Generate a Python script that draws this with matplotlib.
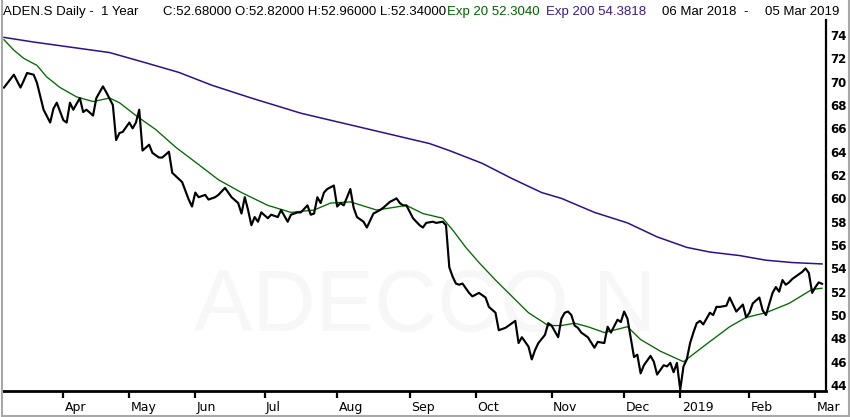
import matplotlib
matplotlib.use("Agg")
import matplotlib.pyplot as plt
from matplotlib.lines import Line2D
import matplotlib.transforms as mtrans

# ---------------- data ----------------
# x = trading-session index (0 = 06 Mar 2018 ... 248 = 05 Mar 2019)
close_day = [0, 3, 5, 6, 7, 9, 10, 12, 14, 15, 16, 18, 19, 20, 21, 23, 24, 25, 27, 28,
             30, 31, 33, 34, 35, 36, 38, 39, 40, 41, 42, 44, 45, 47, 48, 50, 51, 54, 56, 57,
             58, 59, 61, 62, 64, 65, 67, 68, 69, 71, 72, 73, 74, 75, 76, 77, 78, 80, 81, 83,
             84, 86, 87, 89, 90, 92, 93, 94, 95, 96, 97, 98, 100, 101, 102, 103, 105, 106, 107, 109,
             110, 111, 112, 114, 115, 117, 119, 120, 121, 122, 124, 126, 127, 128, 130, 131, 133, 134, 135, 136,
             137, 138, 139, 141, 142, 144, 146, 147, 149, 150, 152, 154, 155, 156, 157, 159, 160, 161, 162, 164,
             165, 166, 168, 169, 170, 171, 172, 173, 174, 175, 177, 179, 180, 182, 183, 184, 186, 187, 188, 189,
             191, 192, 193, 194, 196, 197, 198, 200, 201, 202, 203, 204, 205, 206, 207, 208, 209, 210, 211, 212,
             214, 215, 216, 217, 219, 220, 221, 222, 224, 225, 226, 227, 229, 230, 231, 233, 234, 235, 236, 237,
             238, 239, 240, 242, 243, 244, 245, 246, 247, 248]
close_val = [69.5, 70.6, 69.5, 70.1, 70.75, 70.6, 69.9, 67.6, 66.5, 67.7, 68.2, 66.7, 66.5, 68.2, 67.6, 68.6, 67.4, 67.6, 67.1, 68.6,
             69.6, 69.1, 68.0, 65.0, 65.6, 65.7, 66.5, 66.0, 66.5, 67.6, 64.1, 64.6, 63.9, 63.5, 63.5, 64.0, 62.2, 61.4, 59.9, 59.3,
             60.5, 60.1, 60.3, 59.9, 60.1, 60.3, 60.9, 60.5, 60.1, 59.6, 58.7, 60.1, 59.0, 57.7, 58.4, 58.0, 58.8, 58.3, 58.6, 58.4,
             59.0, 58.0, 58.6, 58.8, 58.8, 59.4, 58.6, 58.7, 60.1, 59.6, 60.5, 60.8, 61.1, 59.3, 59.6, 59.4, 60.8, 59.2, 58.4, 58.0,
             57.5, 58.1, 58.7, 59.0, 59.2, 59.7, 60.0, 59.6, 59.4, 59.4, 58.3, 57.7, 57.5, 57.9, 58.0, 57.9, 58.0, 57.7, 54.1, 53.3,
             52.7, 52.6, 52.7, 51.9, 51.6, 51.9, 51.5, 50.7, 50.2, 48.7, 48.9, 49.3, 49.5, 47.6, 48.1, 47.3, 46.2, 47.0, 47.6, 48.3,
             49.3, 49.1, 48.1, 49.7, 50.2, 50.3, 50.0, 49.1, 48.9, 48.5, 48.1, 47.2, 47.7, 47.6, 49.0, 48.5, 49.6, 49.4, 50.3, 49.7,
             46.4, 46.6, 45.0, 45.7, 46.5, 46.0, 44.9, 45.7, 45.6, 45.9, 45.1, 45.9, 43.6, 45.6, 46.2, 47.6, 48.5, 49.3, 49.5, 49.2,
             50.2, 50.0, 50.7, 50.7, 50.8, 51.5, 50.9, 50.3, 50.9, 49.8, 50.2, 51.0, 51.5, 50.4, 50.0, 51.9, 52.4, 52.0, 53.0, 52.6,
             52.8, 53.1, 53.3, 53.7, 54.0, 53.6, 51.9, 52.4, 52.8, 52.68]

ema200_day = [0, 9, 32, 42, 53, 63, 75, 90, 102, 117, 129, 135, 145, 154, 163, 169, 179, 189, 198, 207,
              214, 223, 231, 239, 248]
ema200_val = [73.8, 73.4, 72.5, 71.7, 70.8, 69.7, 68.6, 67.3, 66.5, 65.5, 64.7, 64.1, 63.0, 61.7, 60.5, 60.0, 58.8, 57.9, 56.7, 55.8,
              55.4, 55.1, 54.7, 54.5, 54.38]

ema20_day = [0, 3, 6, 10, 13, 17, 22, 27, 32, 35, 40, 46, 52, 59, 65, 72, 80, 87, 94, 99,
             105, 113, 122, 127, 133, 136, 140, 144, 149, 154, 159, 165, 169, 173, 177, 182, 189, 193, 199, 206,
             212, 220, 225, 231, 238, 245, 248]
ema20_val = [73.6, 72.7, 72.0, 71.4, 70.4, 69.5, 68.7, 68.3, 68.6, 68.2, 67.1, 65.9, 64.4, 62.9, 61.6, 60.5, 59.4, 58.8, 59.0, 59.6,
             59.7, 59.0, 59.4, 58.7, 58.3, 57.3, 55.8, 54.5, 53.0, 51.6, 50.2, 49.1, 49.1, 49.3, 49.0, 48.5, 49.0, 47.9, 46.9, 46.0,
             47.3, 49.0, 49.8, 50.2, 51.0, 52.2, 52.30]

month_day = [18, 38, 58, 79, 101, 123, 143, 166, 188, 205, 226, 246]
month_lbl = ["Apr", "May", "Jun", "Jul", "Aug", "Sep", "Oct", "Nov", "Dec", "2019", "Feb", "Mar"]
y_ticks = [44, 46, 48, 50, 52, 54, 56, 58, 60, 62, 64, 66, 68, 70, 72, 74]

title_parts = [("ADEN.S Daily -  1 Year", "black"),
               ("C:52.68000 O:52.82000 H:52.96000 L:52.34000", "black"),
               ("Exp 20 52.3040", "#006400"),
               ("Exp 200 54.3818", "#3a1a8c"),
               ("06 Mar 2018", "black"),
               ("-", "black"),
               ("05 Mar 2019", "black")]
watermark = "ADECCO N"

# ---------------- figure ----------------
W, H = 850, 417
fig = plt.figure(figsize=(W / 100, H / 100), dpi=100)
fig.patch.set_facecolor("white")

def fx(px):
    return px / W

def fy(py):
    return 1 - py / H

ax = fig.add_axes([fx(3), fy(391), fx(826) - fx(3), fy(20) - fy(391)])
ax.set_facecolor("white")

# faint watermark behind the lines
ax.text(fx(425), fy(309), watermark, transform=fig.transFigure, ha="center", va="center",
        fontsize=63, color="#f7f7f7", family="Liberation Sans", zorder=1)

ax.plot(ema200_day, ema200_val, color="#2e0f8c", lw=1.1, zorder=3)
ax.plot(ema20_day, ema20_val, color="#006a00", lw=0.95, zorder=3)
ax.plot(close_day, close_val, color="black", lw=1.55, zorder=4)

ax.set_xlim(-0.3, 249.2)
ax.set_ylim(43.49, 75.29)

for s in ["left", "top"]:
    ax.spines[s].set_visible(False)
ax.spines["bottom"].set_linewidth(2.0)
ax.spines["right"].set_linewidth(1.6)

ax.yaxis.tick_right()
ax.set_yticks(y_ticks)
ax.set_yticklabels([str(v) for v in y_ticks], fontsize=8.5, fontweight="bold",
                   family="DejaVu Sans")
ax.tick_params(axis="y", length=0, pad=3)

ax.set_xticks(month_day)
ax.set_xticklabels(month_lbl, fontsize=9, family=["Liberation Sans Narrow", "DejaVu Sans"])
ax.tick_params(axis="x", direction="out", length=5, width=1.6, pad=2)
offset = mtrans.ScaledTranslation(1.5 / 100, 0, fig.dpi_scale_trans)
for lab in ax.get_xticklabels():
    lab.set_horizontalalignment("left")
    lab.set_transform(lab.get_transform() + offset)

# title pieces at measured positions
title_x = [3, 163, 447, 546, 662, 743, 765]
for (txt, col), x in zip(title_parts, title_x):
    fig.text(fx(x), fy(15), txt, color=col, fontsize=9.5,
             family="Liberation Sans", va="baseline", ha="left")

# outer grey frame
frame_col = "#a8a8a8"
fig.add_artist(Line2D([fx(1.5), fx(1.5)], [fy(0), fy(415.5)], color=frame_col, lw=1.5))
fig.add_artist(Line2D([fx(848.5), fx(848.5)], [fy(0), fy(415.5)], color=frame_col, lw=1.5))
fig.add_artist(Line2D([fx(1.5), fx(848.5)], [fy(415.5), fy(415.5)], color=frame_col, lw=1.5))

fig.savefig("out.png", dpi=100, facecolor="white")
